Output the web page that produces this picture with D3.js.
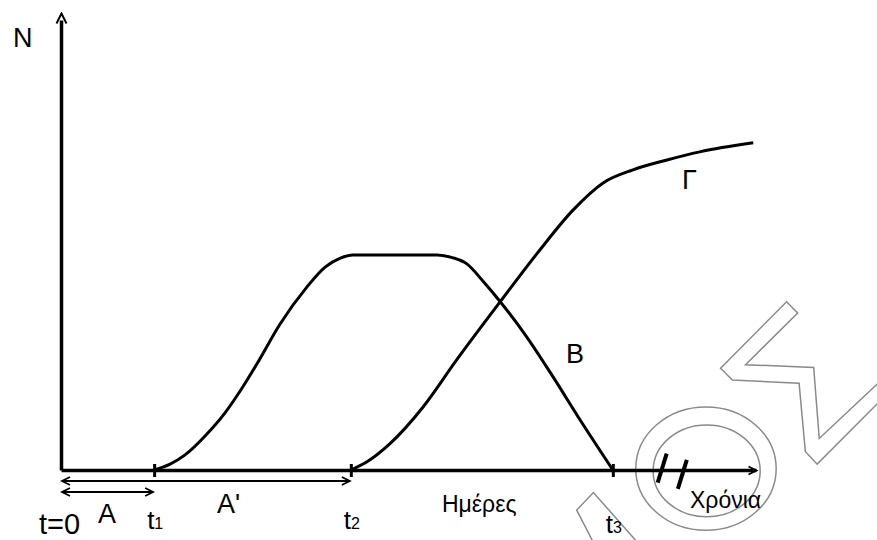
<!DOCTYPE html>
<html lang="el">
<head>
<meta charset="UTF-8">
<title>N – Ημέρες / Χρόνια</title>
<style>
  body { margin: 0; background: #fff; }
  svg { display: block; font-family: "Liberation Sans", Arial, sans-serif; }
  .curve { fill: none; stroke: #000; stroke-width: 3px; stroke-linejoin: round; }
  .axis path, .axis line { stroke: #000; }
  .wm { fill: none; stroke: #8a8a8a; stroke-width: 1.5px; }
  .lbl { fill: #000; }
</style>
</head>
<body>
<svg id="chart" width="877" height="540"></svg>
<script src="https://cdn.jsdelivr.net/npm/d3@7/dist/d3.min.js"></script>
<script>
// time positions of t1, t2, t3 (axis units 0..100)
const tTimes = [13.4, 41.7, 79.4];
const tSubs = ["1", "2", "3"];

// curve B (A' phase) : [time, N]
const curveB = [
  [13.4, 0], [15.7, 1.3], [17.8, 3.3], [21.0, 8.0], [23.6, 12.7],
  [25.8, 17.6], [28.2, 23.6], [31.5, 32.4], [35.4, 40.7], [38.0, 45.1],
  [40.2, 47.1], [42.0, 47.8], [54.1, 47.8], [56.3, 47.2], [58.4, 45.8],
  [60.7, 42.0], [63.2, 37.4], [67.0, 29.6], [70.8, 20.7], [74.7, 11.1],
  [79.4, 0]
];

// curve Γ
const curveG = [
  [41.7, 0], [44.2, 2.0], [47.3, 5.8], [52.1, 14.0], [56.9, 24.4],
  [63.2, 37.4], [68.9, 48.9], [73.7, 57.8], [78.0, 63.8], [82.3, 66.7],
  [87.2, 68.9], [91.9, 70.7], [99.6, 72.7]
];

// "//" axis break marks
const breakMarks = [[86.5, 0.3], [89.4, -1.1]];

// watermark outlines (axis units)
const wmZigzag = [
  [104.4, 37.4], [106.0, 34.9], [98.5, 23.4], [108.3, 22.8], [109.1, 7.0],
  [119.3, 21.8], [119.3, 17.6], [108.8, 1.3], [107.1, 4.1], [106.2, 19.3],
  [96.6, 20.0], [94.9, 22.6]
];
const wmStrip = [[76.8, -16.7], [74.2, -8.9], [76.6, -5.0], [83.3, -16.7]];
const wmRings = [
  { cx: 92.8, cy: 0.3, rx: 10.1, ry: 13.7 },
  { cx: 92.9, cy: -0.2, rx: 7.7, ry: 10.2 }
];

const svg = d3.select("#chart");
const x = d3.scaleLinear().domain([0, 100]).range([61, 756]);
const y = d3.scaleLinear().domain([0, 100]).range([470, 20]);

const defs = svg.append("defs");
defs.append("marker")
  .attr("id", "arrowBig")
  .attr("markerUnits", "userSpaceOnUse")
  .attr("viewBox", "-12 -7 14 14")
  .attr("refX", -7).attr("refY", 0)
  .attr("markerWidth", 14).attr("markerHeight", 14)
  .attr("orient", "auto")
  .append("path")
  .attr("d", "M-10,-5L0,0L-10,5")
  .attr("fill", "none").attr("stroke", "#000").attr("stroke-width", 2);

defs.append("marker")
  .attr("id", "arrowSmall")
  .attr("markerUnits", "userSpaceOnUse")
  .attr("viewBox", "-10 -6 12 12")
  .attr("refX", 0).attr("refY", 0)
  .attr("markerWidth", 12).attr("markerHeight", 12)
  .attr("orient", "auto-start-reverse")
  .append("path")
  .attr("d", "M-8,-4L0,0L-8,4")
  .attr("fill", "none").attr("stroke", "#000").attr("stroke-width", 1.8);

// watermark first, underneath
const wm = svg.append("g");
wm.append("path").attr("class", "wm")
  .attr("d", d3.line().x(d => x(d[0])).y(d => y(d[1]))(wmZigzag) + "Z");
wm.append("path").attr("class", "wm")
  .attr("d", d3.line().x(d => x(d[0])).y(d => y(d[1]))(wmStrip));
wm.selectAll("ellipse").data(wmRings).join("ellipse")
  .attr("class", "wm")
  .attr("cx", d => x(d.cx)).attr("cy", d => y(d.cy))
  .attr("rx", d => x(d.rx) - x(0)).attr("ry", d => y(0) - y(d.ry));

// axes
const xAxis = svg.append("g")
  .attr("class", "axis")
  .attr("transform", `translate(0,${y(0)})`)
  .call(d3.axisBottom(x).tickValues(tTimes).tickFormat("").tickSizeOuter(0));
xAxis.select(".domain").attr("stroke-width", 3.5).attr("marker-end", "url(#arrowSmall)");
xAxis.selectAll(".tick line").attr("y1", -6).attr("y2", 7).attr("stroke-width", 3);

const yAxis = svg.append("g")
  .attr("class", "axis")
  .attr("transform", `translate(${x(0)},0)`)
  .call(d3.axisLeft(y).tickValues([]).tickSizeOuter(0));
yAxis.select(".domain").attr("stroke-width", 3.5).attr("marker-end", "url(#arrowBig)");

// curves
const line = d3.line().x(d => x(d[0])).y(d => y(d[1])).curve(d3.curveMonotoneX);
svg.append("path").attr("class", "curve").attr("d", line(curveB));
svg.append("path").attr("class", "curve").attr("d", line(curveG));

// duration arrows A and A'
const spans = [
  { from: 0, to: tTimes[1], yy: y(0) + 11 },
  { from: 0, to: tTimes[0], yy: y(0) + 22 }
];
svg.selectAll(".span").data(spans).join("line")
  .attr("class", "span")
  .attr("x1", d => x(d.from) + 1).attr("x2", d => x(d.to) - 1)
  .attr("y1", d => d.yy).attr("y2", d => d.yy)
  .attr("stroke", "#000").attr("stroke-width", 2.2)
  .attr("marker-start", "url(#arrowSmall)")
  .attr("marker-end", "url(#arrowSmall)");

// break marks
svg.selectAll(".brk").data(breakMarks).join("line")
  .attr("class", "brk")
  .attr("x1", d => x(d[0]) + 4.5).attr("y1", d => y(d[1]) - 15)
  .attr("x2", d => x(d[0]) - 4.5).attr("y2", d => y(d[1]) + 14)
  .attr("stroke", "#000").attr("stroke-width", 4);

// labels
function label(txt, px, py, size) {
  return svg.append("text").attr("class", "lbl")
    .attr("x", px).attr("y", py)
    .style("font-size", size + "px").text(txt);
}
label("N", 13, 47, 27);
label("t=0", 39, 534, 29);
label("A", 98, 523, 27);
label("A'", 217, 513, 27);
label("B", 566, 363, 27);
label("Γ", 682, 189, 27);
label("Ημέρες", 442, 512, 23);
label("Χρόνια", 690, 508, 23);

const tBase = [529, 529, 533];
tTimes.forEach((t, i) => {
  const tx = svg.append("text").attr("class", "lbl")
    .attr("x", x(t) - 7).attr("y", tBase[i])
    .style("font-size", "26px");
  tx.append("tspan").text("t");
  tx.append("tspan").style("font-size", "16px").text(tSubs[i]);
});
</script>
</body>
</html>
